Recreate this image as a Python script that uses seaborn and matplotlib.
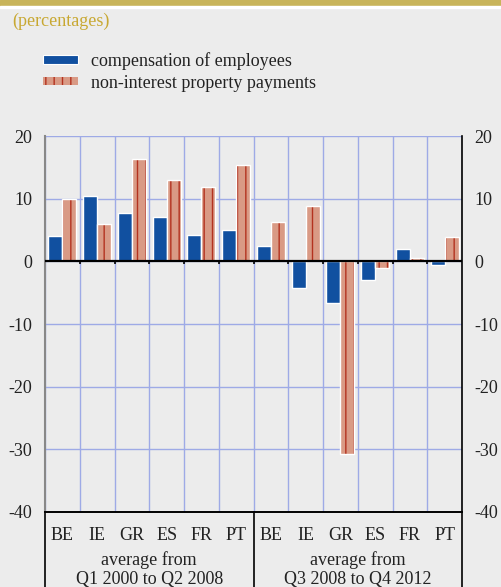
import numpy as np
import pandas as pd
import matplotlib
import matplotlib.pyplot as plt
import matplotlib.patches as mpatches
import matplotlib.transforms as mtransforms
import seaborn as sns

matplotlib.use("Agg")

# ---------------------------------------------------------------
# Data (percentages)
# ---------------------------------------------------------------
COUNTRIES = ["BE", "IE", "GR", "ES", "FR", "PT"]
PERIODS = ["average from\nQ1 2000 to Q2 2008", "average from\nQ3 2008 to Q4 2012"]
SERIES = ["compensation of employees", "non-interest property payments"]

comp_pre = [4.0, 10.4, 7.7, 7.0, 4.2, 5.0]
nipp_pre = [10.0, 5.9, 16.3, 13.0, 11.9, 15.3]
comp_post = [2.5, -4.3, -6.7, -3.0, 2.0, -0.6]
nipp_post = [6.3, 8.9, -30.8, -1.0, 0.6, 3.9]

Y_TICKS = [20, 10, 0, -10, -20, -30, -40]

BLUE = "#1150a0"
SALMON = "#d99a85"
STRIPE = "#b3321f"
GRID = "#9eaae6"
BG = "#ececec"
GOLD = "#c8b45a"
TEXT = "#222222"

# long form table
rows = []
for p, (comp, nipp) in enumerate([(comp_pre, nipp_pre), (comp_post, nipp_post)]):
    for c, country in enumerate(COUNTRIES):
        slot = f"{p}_{country}"
        rows.append({"slot": slot, "series": SERIES[0], "value": comp[c]})
        rows.append({"slot": slot, "series": SERIES[1], "value": nipp[c]})
df = pd.DataFrame(rows)
slots = list(dict.fromkeys(df["slot"]))

# ---------------------------------------------------------------
# Figure
# ---------------------------------------------------------------
sns.set_style("white")
plt.rcParams["font.family"] = ["Liberation Serif", "DejaVu Serif"]
plt.rcParams["axes.unicode_minus"] = False
plt.rcParams["hatch.linewidth"] = 1.0

fig = plt.figure(figsize=(5.01, 5.87), dpi=100, facecolor=BG)
ax = fig.add_axes([45 / 501, 1 - 512 / 587, 417 / 501, 376 / 587])
ax.set_facecolor(BG)

sns.barplot(data=df, x="slot", y="value", hue="series", order=slots,
            hue_order=SERIES, palette={SERIES[0]: BLUE, SERIES[1]: SALMON},
            saturation=1, width=0.8, edgecolor="white", linewidth=1,
            legend=False, ax=ax, zorder=3)

# stripes on the property payments bars, white outline on top
for bar in ax.containers[1]:
    bar.set_hatch("||")
    bar.set_edgecolor(STRIPE)
    bar.set_linewidth(0)
    ax.add_patch(mpatches.Rectangle((bar.get_x(), bar.get_y()), bar.get_width(),
                                    bar.get_height(), facecolor="none",
                                    edgecolor="white", linewidth=1, zorder=4))

n = len(slots)
bounds = np.arange(n + 1) - 0.5
ax.set_xlim(bounds[0], bounds[-1])
ax.set_ylim(-40, 20)
ax.set_yticks(Y_TICKS)
ax.set_xticks(range(n))
ax.set_xticklabels(COUNTRIES * 2)
ax.set_xticks(bounds, minor=True)
ax.set_xlabel("")
ax.set_ylabel("")

ax.grid(which="minor", axis="x", color=GRID, linewidth=1, zorder=0)
ax.grid(which="major", axis="y", color=GRID, linewidth=1, zorder=0)
ax.grid(which="major", axis="x", visible=False)
ax.axhline(0, color="black", linewidth=1.6, zorder=5)
ax.vlines(bounds[1:-1], -0.5, 0, color="black", linewidth=1.2, zorder=5)

ax.tick_params(axis="y", which="both", length=0, labelsize=13, colors=TEXT,
               left=True, right=True, labelleft=True, labelright=True, pad=9)
ax.tick_params(axis="x", which="major", length=0, labelsize=13, colors=TEXT, pad=11)
ax.tick_params(axis="x", which="minor", length=3, width=1.2, color="black",
               direction="out")

ax.spines["top"].set_visible(False)
ax.spines["left"].set_color("#888888")
ax.spines["left"].set_linewidth(1.5)
ax.spines["right"].set_color("black")
ax.spines["right"].set_linewidth(1.2)
ax.spines["bottom"].set_color("black")
ax.spines["bottom"].set_linewidth(1.4)

# group separators below the axis and period labels
trans = mtransforms.blended_transform_factory(ax.transData, ax.transAxes)
for x in [bounds[0], bounds[len(COUNTRIES)], bounds[-1]]:
    ax.plot([x, x], [0, -0.21], color="black", linewidth=1.2,
            transform=trans, clip_on=False)
for p, label in enumerate(PERIODS):
    centre = p * len(COUNTRIES) + (len(COUNTRIES) - 1) / 2
    ax.text(centre, -0.152, label, transform=trans, ha="center", va="center",
            fontsize=13, color=TEXT, linespacing=1.15)

# header band, title, legend
fig.add_artist(mpatches.Rectangle((0, 1 - 6 / 587), 1, 6 / 587, color=GOLD,
                                  transform=fig.transFigure))
fig.add_artist(mpatches.Rectangle((0, 1 - 8 / 587), 1, 2 / 587, color="white",
                                  transform=fig.transFigure))
fig.text(12 / 501, 1 - 21 / 587, "(percentages)", color="#c8a832",
         fontsize=13, ha="left", va="center")

handles = [
    mpatches.Patch(facecolor=BLUE, edgecolor="white", linewidth=0.8),
    mpatches.Patch(facecolor=SALMON, edgecolor=STRIPE, linewidth=0, hatch="||"),
]
fig.legend(handles, SERIES, loc="upper left", bbox_to_anchor=(27 / 501, 1 - 36 / 587),
           frameon=False, fontsize=13, handlelength=1.9, handleheight=0.35,
           handletextpad=0.75, labelspacing=0.25, labelcolor=TEXT)

fig.savefig("out.png", dpi=100, facecolor=BG)
